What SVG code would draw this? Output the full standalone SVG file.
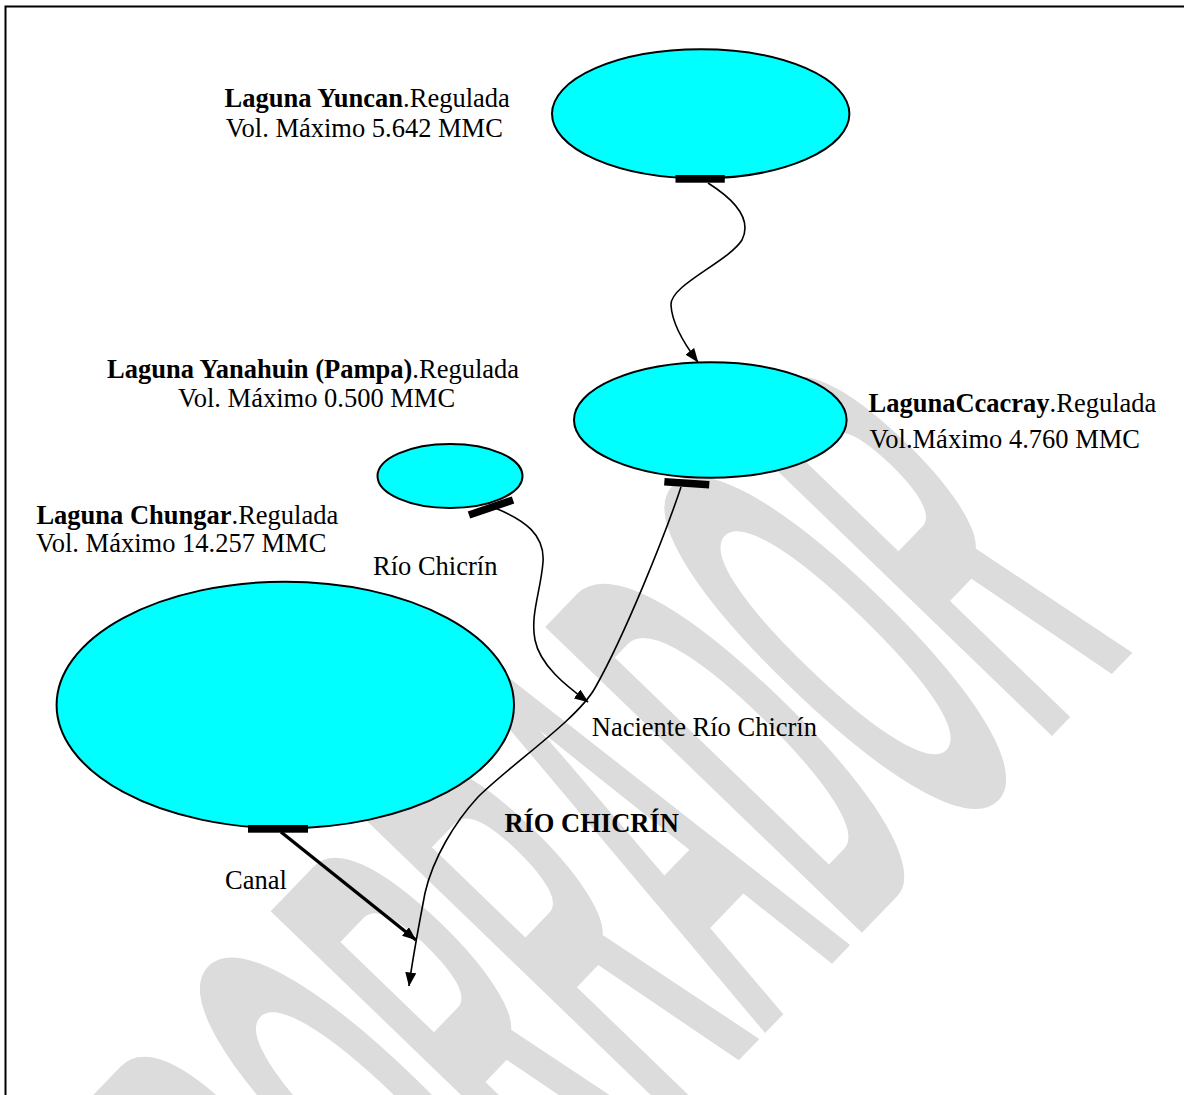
<svg xmlns="http://www.w3.org/2000/svg" width="1184" height="1095" viewBox="0 0 1184 1095">
  <defs>
    <style>
      .lake { fill: #00ffff; stroke: #000; stroke-width: 2; }
      .gate { fill: #000; }
      .t { font-family: "Liberation Serif", "Times New Roman", serif; font-size: 26.5px; fill: #000; }
      .b { font-weight: bold; }
      .river { fill: none; stroke: #000; stroke-width: 1.6; }
      .canal { fill: none; stroke: #000; stroke-width: 3.5; }
      .wm { font-family: "Liberation Sans", Arial, sans-serif; font-weight: bold; fill: #dcdcdc; }
    </style>
    <marker id="arr" markerUnits="userSpaceOnUse" markerWidth="15" markerHeight="11" refX="13.5" refY="5.5" orient="auto">
      <path d="M0,0 L14,5.5 L0,11 Z" fill="#000"/>
    </marker>
  </defs>

  <rect width="1184" height="1095" fill="#fff"/>

  <!-- diagonal draft watermark: tall condensed letters -->
  <g id="watermark">
    <text class="wm" transform="translate(1135,650) rotate(-46) scale(0.285,1)" text-anchor="end" font-size="640">BORRADOR</text>
  </g>

  <!-- page frame (open to the right and bottom) -->
  <path d="M5.5,1095 V6.5 H1184" fill="none" stroke="#000" stroke-width="2"/>

  <!-- flows between lakes -->
  <g id="connectors">
    <path class="river" d="M708,183 C735,200 752,220 742,240 C728,262 670,285 671,305 C672,325 685,345 698,362" marker-end="url(#arr)"/>
    <path class="river" d="M495,508 C525,520 545,535 543,562 C541,590 530,615 535,640 C540,665 565,685 588,702" marker-end="url(#arr)"/>
    <path class="river" d="M681,487 C665,535 625,635 595,688 C577,720 510,765 478,797 C455,822 433,858 425,893 C420,920 413,955 409,986" marker-end="url(#arr)"/>
    <path class="canal" d="M281,832 L416,940" marker-end="url(#arr)"/>
  </g>

  <g id="yuncan">
    <ellipse class="lake" cx="700.7" cy="113.8" rx="148.7" ry="64.5"/>
    <rect class="gate" x="675.5" y="175" width="49.3" height="7.7"/>
    <text class="t" x="224.6" y="107.3"><tspan class="b">Laguna Yuncan</tspan>.Regulada</text>
    <text class="t" x="225.8" y="136.7">Vol. Máximo 5.642 MMC</text>
  </g>

  <g id="ccacray">
    <ellipse class="lake" cx="710.3" cy="420" rx="136.3" ry="57.7"/>
    <rect class="gate" x="664.3" y="479.5" width="45" height="7.5" transform="rotate(4 686.8 483.3)"/>
    <text class="t" x="868.5" y="412.3"><tspan class="b">LagunaCcacray</tspan>.Regulada</text>
    <text class="t" x="869.6" y="448">Vol.Máximo 4.760 MMC</text>
  </g>

  <g id="yanahuin">
    <ellipse class="lake" cx="450" cy="476" rx="72.5" ry="32"/>
    <rect class="gate" x="467.75" y="503.75" width="46.5" height="7.5" transform="rotate(-18.8 491 507.5)"/>
    <text class="t" x="107" y="378.3"><tspan class="b">Laguna Yanahuin (Pampa)</tspan>.Regulada</text>
    <text class="t" x="178" y="407.3">Vol. Máximo 0.500 MMC</text>
  </g>

  <g id="chungar">
    <ellipse class="lake" cx="285.3" cy="705" rx="228.7" ry="123.3"/>
    <rect class="gate" x="248" y="825" width="60" height="7.7"/>
    <text class="t" x="36.4" y="524"><tspan class="b">Laguna Chungar</tspan>.Regulada</text>
    <text class="t" x="36" y="552.3">Vol. Máximo 14.257 MMC</text>
  </g>

  <g id="labels">
    <text class="t" x="373" y="575">Río Chicrín</text>
    <text class="t" x="591.8" y="736">Naciente Río Chicrín</text>
    <text class="t b" x="504.4" y="831.5">RÍO CHICRÍN</text>
    <text class="t" x="225" y="889.3">Canal</text>
  </g>
</svg>
